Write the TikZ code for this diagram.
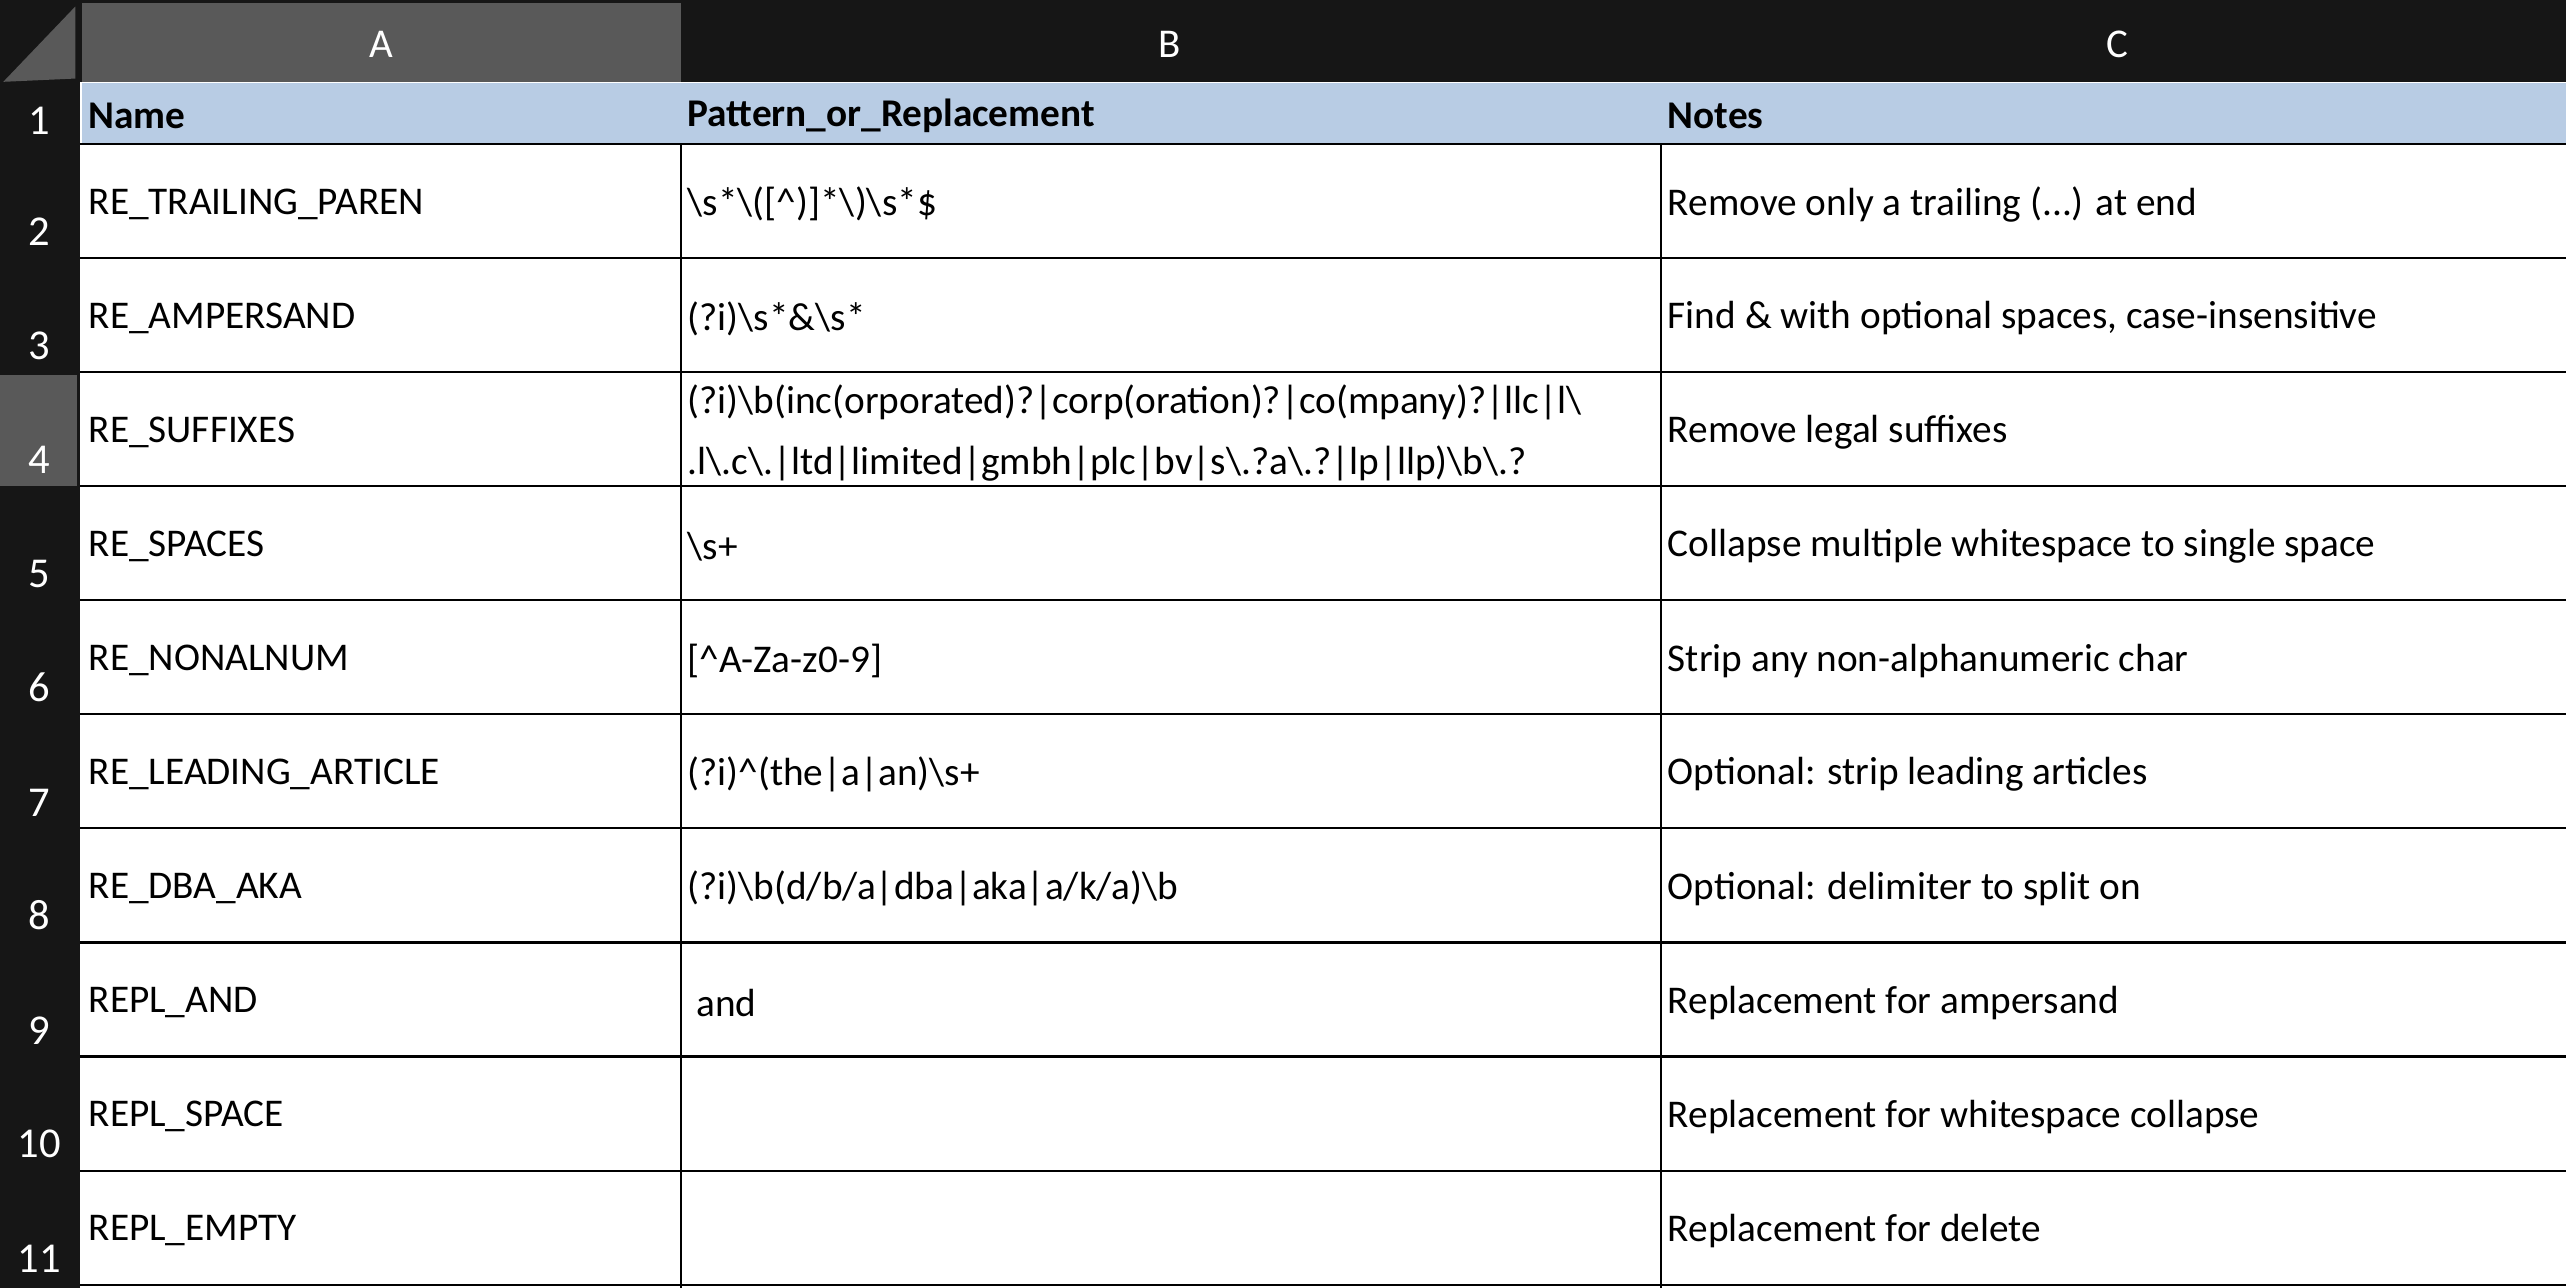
\documentclass[tikz,border=0pt]{standalone}
\usepackage{fontspec}
\setmainfont{Carlito}
\definecolor{hdrdark}{HTML}{161616}
\definecolor{hdrsel}{HTML}{595959}
\definecolor{rowblue}{HTML}{B8CCE4}
\begin{document}
\begin{tikzpicture}[x=1pt,y=-1pt]
\tikzset{
  collabel/.style={text=white,font=\fontsize{25}{28}\selectfont},
  rowlabel/.style={text=white,font=\fontsize{26}{28}\selectfont,anchor=south},
  celltext/.style={anchor=west,inner sep=0pt,font=\fontsize{24}{27}\selectfont},
  headtext/.style={celltext,font=\fontsize{24}{27}\selectfont\bfseries},
  grid/.style={black,line width=1.3pt}
}
\useasboundingbox (0,0) rectangle (1568,787);
% header bars
\fill[hdrdark] (0,0) rectangle (1568,50);
\fill[hdrdark] (0,50) rectangle (48,787);
\fill[hdrsel] (50,2) rectangle (416,50);
\fill[hdrsel] (0,229) rectangle (48,297);
\fill[gray!70!black] (2,50) -- (46,4) -- (46,48) -- cycle;
\fill[rowblue] (50,51) rectangle (1568,88);
\fill[white] (50,88) rectangle (1568,787);
\node[collabel] (colA) at (233,27) {A};
\node[collabel] (colB) at (715,27) {B};
\node[collabel] (colC) at (1294,27) {C};
% row numbers
\node[rowlabel] (row1) at (24,86) {1};
\foreach \r in {2,...,11} {
  \node[rowlabel] (row\r) at (24,{88+69.7*(\r-1)-4}) {\r};
}
% grid
\foreach \r in {1,...,11} \draw[grid] (48,{88+69.7*(\r-1)}) -- (1568,{88+69.7*(\r-1)});
\draw[grid] (416,88) -- (416,787);
\draw[grid] (1015,88) -- (1015,787);
\draw[hdrdark,line width=2pt] (48,0) -- (48,787);
% header row
\node[headtext] (hname) at (54,71) {Name};
\node[headtext] (hpat) at (420,71) {Pattern\_or\_Replacement};
\node[headtext] (hnote) at (1019,71) {Notes};
% body
\foreach \r/\n/\p/\c in {
  2/RE\_TRAILING\_PAREN/{\textbackslash s*\textbackslash([\^{})]*\textbackslash)\textbackslash s*\$}/{Remove only a trailing (...) at end},
  3/RE\_AMPERSAND/{(?i)\textbackslash s*\&\textbackslash s*}/{Find \& with optional spaces, case-insensitive},
  4/RE\_SUFFIXES//{Remove legal suffixes},
  5/RE\_SPACES/{\textbackslash s+}/{Collapse multiple whitespace to single space},
  6/RE\_NONALNUM/{[\^{}A-Za-z0-9]}/{Strip any non-alphanumeric char},
  7/RE\_LEADING\_ARTICLE/{(?i)\^{}(the|a|an)\textbackslash s+}/{Optional: strip leading articles},
  8/RE\_DBA\_AKA/{(?i)\textbackslash b(d/b/a|dba|aka|a/k/a)\textbackslash b}/{Optional: delimiter to split on},
  9/REPL\_AND/{\ and}/{Replacement for ampersand},
  10/REPL\_SPACE//{Replacement for whitespace collapse},
  11/REPL\_EMPTY//{Replacement for delete}} {
  \node[celltext] (name\r) at (54,{88+69.7*(\r-1.5)+2}) {\n};
  \node[celltext] (pat\r) at (420,{88+69.7*(\r-1.5)+2}) {\p};
  \node[celltext] (note\r) at (1019,{88+69.7*(\r-1.5)+2}) {\c};
}
\node[celltext] (pat4a) at (420,246) {(?i)\textbackslash b(inc(orporated)?|corp(oration)?|co(mpany)?|llc|l\textbackslash};
\node[celltext] (pat4b) at (420,283) {.l\textbackslash.c\textbackslash.|ltd|limited|gmbh|plc|bv|s\textbackslash.?a\textbackslash.?|lp|llp)\textbackslash b\textbackslash.?};
\end{tikzpicture}
\end{document}
